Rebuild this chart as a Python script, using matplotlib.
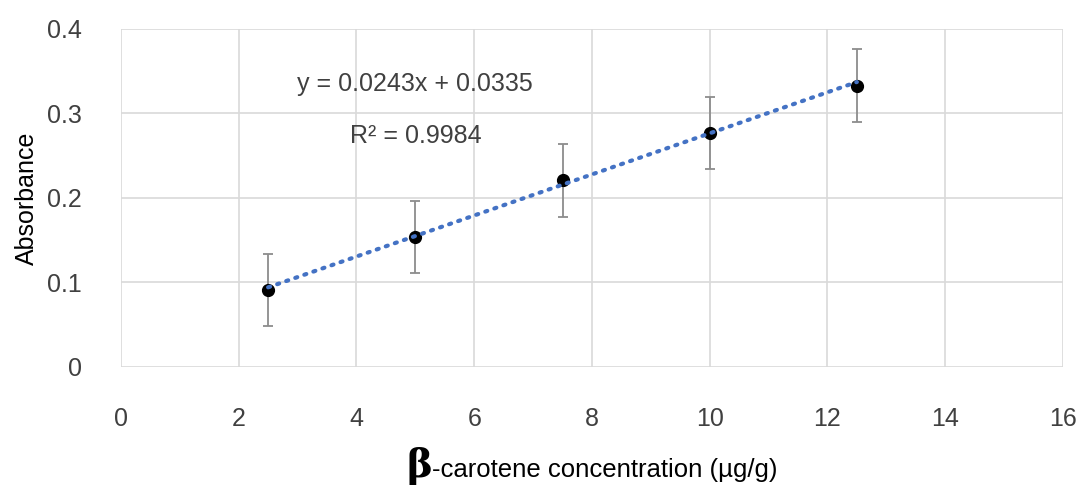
import matplotlib.pyplot as plt

plt.rcParams['font.family'] = ['Liberation Sans', 'DejaVu Sans']

conc = [2.5, 5, 7.5, 10, 12.5]
absorbance = [0.091, 0.154, 0.221, 0.277, 0.333]
err = [0.043, 0.043, 0.043, 0.043, 0.043]
slope = 0.0243
intercept = 0.0335

fig = plt.figure(figsize=(10.79, 4.93), dpi=100)
ax = fig.add_axes([0.1121, 0.2556, 0.8730, 0.6856])

ax.errorbar(conc, absorbance, yerr=err, fmt='none', ecolor='#8c8c8c',
            elinewidth=1.3, capsize=3.5, capthick=1.3, zorder=3)
ax.plot(conc, absorbance, 'o', color='black', markersize=8.5, zorder=4)

# linear trendline
fit_x = [conc[0], conc[-1]]
fit_y = [slope * x + intercept for x in fit_x]
ax.plot(fit_x, fit_y, color='#4472C4', linestyle=(0, (0.5, 1.8)),
        linewidth=3, dash_capstyle='round', zorder=5)

ax.text(5.0, 0.335, f'y = {slope}x + {intercept}', fontsize=18,
        color='#404040', ha='center', va='center')
ax.text(5.0, 0.273, 'R² = 0.9984', fontsize=18,
        color='#404040', ha='center', va='center')

ax.set_xlim(0, 16)
ax.set_ylim(0, 0.4)
ax.set_xticks(range(0, 17, 2))
ax.set_yticks([0, 0.1, 0.2, 0.3, 0.4])
ax.set_yticklabels(['0', '0.1', '0.2', '0.3', '0.4'])
ax.grid(True, color='#d9d9d9', linewidth=1.2)
ax.set_axisbelow(True)
for s in ax.spines.values():
    s.set_visible(False)
ax.tick_params(length=0, labelsize=18, colors='#404040')
ax.tick_params(axis='x', pad=29)
ax.tick_params(axis='y', pad=28)

ax.set_ylabel('Absorbance', fontsize=18, color='black', labelpad=6)

# x label with an enlarged beta
fig.text(0.4004, 0.033, 'β', fontsize=28, fontweight='bold',
         family=['DejaVu Serif'], ha='right', va='baseline')
fig.text(0.4004, 0.033, '-carotene concentration (µg/g)', fontsize=18.5,
         ha='left', va='baseline')

fig.savefig('out.png', dpi=100)
